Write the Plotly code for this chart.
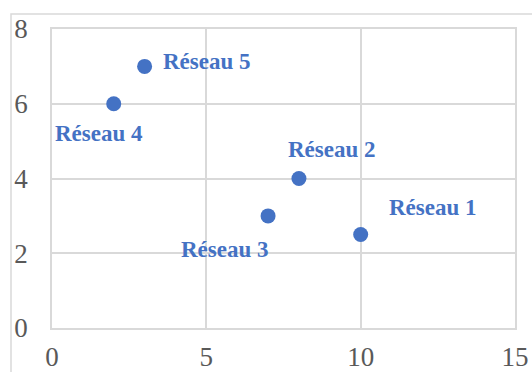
import plotly.graph_objects as go

# Data
reseaux = ["Réseau 1", "Réseau 2", "Réseau 3", "Réseau 4", "Réseau 5"]
x_vals = [10, 8, 7, 2, 3]
y_vals = [2.5, 4, 3, 6, 7]

# Label offsets (pixels, screen: right +, up +)
label_shift = {
    "Réseau 1": (72, 27),
    "Réseau 2": (33, 29),
    "Réseau 3": (-43, -34),
    "Réseau 4": (-15, -30),
    "Réseau 5": (62, 5),
}

BLUE = "#4472C4"
GRID = "#d9d9d9"
TICK = "#595959"
FONT = "Liberation Serif"

fig = go.Figure()
fig.add_trace(go.Scatter(
    x=x_vals, y=y_vals, mode="markers",
    marker=dict(color=BLUE, size=15),
    showlegend=False, cliponaxis=False,
))

for name, xv, yv in zip(reseaux, x_vals, y_vals):
    dx, dy = label_shift[name]
    fig.add_annotation(
        x=xv, y=yv, text=f"<b>{name}</b>", showarrow=False,
        xshift=dx, yshift=dy, xanchor="center", yanchor="middle",
        font=dict(family=FONT, size=23, color=BLUE),
    )

W, H = 532, 372
L, R, T, B = 52, 17, 29, 44
pw, ph = W - L - R, H - T - B

# outer chart-area border
fig.add_shape(
    type="rect", xref="paper", yref="paper",
    x0=(11 - L) / pw, x1=(W + 10 - L) / pw,
    y0=-(H + 10 - T - ph) / ph, y1=(ph + T - 14) / ph,
    line=dict(color=GRID, width=1.5), fillcolor="rgba(0,0,0,0)", layer="below",
)

fig.update_layout(
    width=W, height=H,
    margin=dict(l=L, r=R, t=T, b=B, pad=0, autoexpand=False),
    paper_bgcolor="white", plot_bgcolor="white",
    font=dict(family=FONT, color=TICK, size=27),
)
fig.update_xaxes(
    range=[0, 15], tickvals=[0, 5, 10, 15], showgrid=True, gridcolor=GRID, gridwidth=1.5,
    zeroline=False, showline=True, linecolor=GRID, linewidth=1.5, mirror=True, automargin=False,
    ticks="", tickfont=dict(family=FONT, size=27, color=TICK), ticklabelstandoff=4,
)
fig.update_yaxes(
    range=[0, 8], tickvals=[0, 2, 4, 6, 8], showgrid=True, gridcolor=GRID, gridwidth=1.5,
    zeroline=False, showline=True, linecolor=GRID, linewidth=1.5, mirror=True, automargin=False,
    ticks="", tickfont=dict(family=FONT, size=27, color=TICK), ticklabelstandoff=17,
)

fig.write_html(
    "out.html",
    config={"displayModeBar": False},
    post_script="document.body.style.margin='0';document.body.style.overflow='hidden';",
)
